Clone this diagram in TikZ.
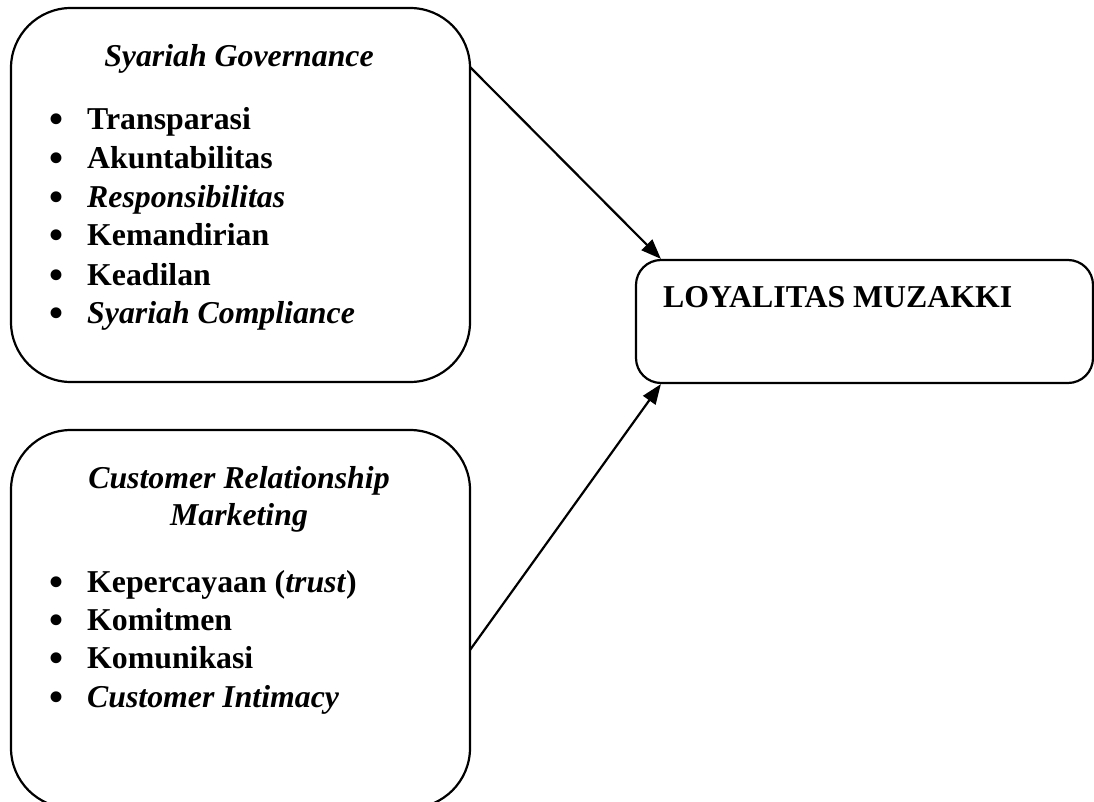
\documentclass[tikz,border=0pt]{standalone}
\usepackage{fontspec}
\setmainfont{Liberation Serif}
\usetikzlibrary{arrows.meta}
\begin{document}
\begin{tikzpicture}[x=1pt,y=-1pt,
  bigbox/.style={draw,line width=2.2pt,rounded corners=60pt,minimum width=459pt,inner sep=0pt},
  smallbox/.style={draw,line width=2.2pt,rounded corners=25pt,minimum width=457pt,minimum height=123pt,inner sep=0pt},
  txt/.style={inner sep=0pt,font=\fontsize{31.8}{38}\selectfont\bfseries},
  itm/.style={txt,anchor=base west},
  bul/.style={inner sep=0pt,anchor=base,font=\fontsize{40}{40}\selectfont\bfseries},
  conn/.style={line width=2.2pt,-{Triangle[length=20pt,width=15pt]}}]
\useasboundingbox (0,0) rectangle (1094,802);
% boxes
\node[bigbox,minimum height=374pt] (box1) at (240.5,195) {};
\node[bigbox,minimum height=378pt] (box2) at (240.5,619) {};
\node[smallbox] (box3) at (864.5,321.5) {};
% box 1 text
\node[txt,anchor=base] (t1) at (239,67) {\itshape Syariah Governance};
\node[bul] (b11) at (57,133) {•};
\node[itm] (i11) at (87,130) {Transparasi};
\node[bul] (b12) at (57,172) {•};
\node[itm] (i12) at (87,169) {Akuntabilitas};
\node[bul] (b13) at (57,211) {•};
\node[itm] (i13) at (87,208) {\itshape Responsibilitas};
\node[bul] (b14) at (57,249) {•};
\node[itm] (i14) at (87,246) {Kemandirian};
\node[bul] (b15) at (57,288) {•};
\node[itm] (i15) at (87,285) {Keadilan};
\node[bul] (b16) at (57,326) {•};
\node[itm] (i16) at (87,323) {\itshape Syariah Compliance};
% box 2 text
\node[txt,anchor=base] (t2a) at (239,488) {\itshape Customer Relationship};
\node[txt,anchor=base] (t2b) at (239,525) {\itshape Marketing};
\node[bul] (b21) at (57,595) {•};
\node[itm] (i21) at (87,592) {Kepercayaan (\textit{trust})};
\node[bul] (b22) at (57,633) {•};
\node[itm] (i22) at (87,630) {Komitmen};
\node[bul] (b23) at (57,671) {•};
\node[itm] (i23) at (87,668) {Komunikasi};
\node[bul] (b24) at (57,710) {•};
\node[itm] (i24) at (87,707) {\itshape Customer Intimacy};
% box 3 text
\node[itm] (t3) at (663,307) {LOYALITAS MUZAKKI};
% connectors
\coordinate (s1) at (470,67);
\coordinate (s2) at (470,650);
\draw[conn] (s1) -- ([xshift=26pt]box3.north west);
\draw[conn] (s2) -- ([xshift=26pt]box3.south west);
\end{tikzpicture}
\end{document}
